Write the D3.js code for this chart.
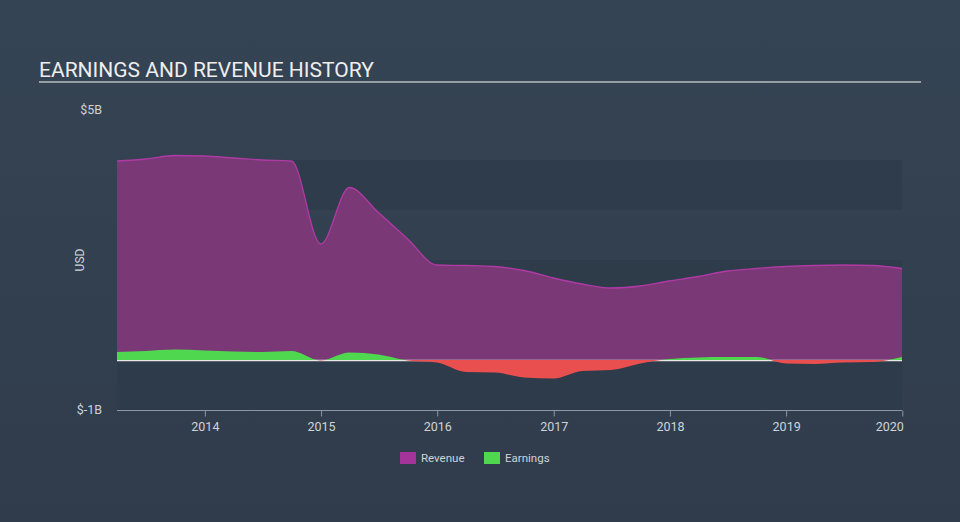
<!DOCTYPE html>
<html><head><meta charset="utf-8">
<script src="https://cdn.jsdelivr.net/npm/d3@7"></script>
<style>
html,body{margin:0;padding:0;background:#333f4f;}
svg{display:block;font-family:Roboto,"Noto Sans",sans-serif;}
</style></head>
<body>
<svg id="chart" width="960" height="522"></svg>
<script>
const dates = ["2013-03-31","2013-06-30","2013-09-30","2013-12-31","2014-03-31","2014-06-30","2014-09-30","2014-12-31",
"2015-03-31","2015-06-30","2015-09-30","2015-12-31","2016-03-31","2016-06-30","2016-09-30","2016-12-31",
"2017-03-31","2017-06-30","2017-09-30","2017-12-31","2018-03-31","2018-06-30","2018-09-30","2018-12-31",
"2019-03-31","2019-06-30","2019-09-30","2019-12-31"];
const revenue = [3.98,4.02,4.09,4.08,4.04,4.00,3.98,2.32,3.45,2.95,2.42,1.90,1.89,1.87,1.79,1.64,1.52,1.44,1.48,1.58,1.67,1.78,1.83,1.87,1.89,1.90,1.89,1.83];
const earnings = [0.16,0.18,0.21,0.19,0.17,0.16,0.18,-0.01,0.15,0.11,-0.01,-0.05,-0.24,-0.25,-0.35,-0.37,-0.22,-0.20,-0.07,0.02,0.05,0.06,0.06,-0.07,-0.08,-0.05,-0.04,0.06];
const xTicks = [2014,2015,2016,2017,2018,2019,2020];
const yTickValues = [5,-1];
const yTickLabels = ["$5B","$-1B"];
const bandValues = [-1,1,3];

(function(){
const parse = d3.timeParse("%Y-%m-%d");
const rows = dates.map((d,i)=>({date:parse(d), rev:revenue[i], earn:earnings[i]}));

const svg = d3.select("#chart");
const W=960,H=522;
const defs = svg.append("defs");
const bg = defs.append("linearGradient").attr("id","bg").attr("x1",0).attr("y1",0).attr("x2",0).attr("y2",1);
bg.append("stop").attr("offset","0%").attr("stop-color","#354454");
bg.append("stop").attr("offset","100%").attr("stop-color","#303c4b");
svg.append("rect").attr("width",W).attr("height",H).attr("fill","url(#bg)");

const pLeft=117,pRight=902,pTop=110,pBottom=410;
const x = d3.scaleTime().domain([parse("2013-03-31"),parse("2019-12-31")]).range([pLeft,pRight]);
const y = d3.scaleLinear().domain([-1,5]).range([pBottom,pTop]);

// bands
svg.selectAll("rect.band").data(bandValues).enter().append("rect")
  .attr("class","band")
  .attr("x",pLeft).attr("width",pRight-pLeft)
  .attr("y",d=>y(d+1)).attr("height",d=>y(d)-y(d+1))
  .attr("fill","#2c3a49").attr("opacity",0.7);

// title
svg.append("text").attr("x",39).attr("y",77).text("EARNINGS AND REVENUE HISTORY")
  .attr("fill","#eeeeee").attr("font-size",21);
svg.append("line").attr("x1",39).attr("x2",921).attr("y1",82).attr("y2",82)
  .attr("stroke","#b8bcc2").attr("stroke-width",1.5);

// revenue area
const curve = d3.curveMonotoneX;
const revArea = d3.area().x(d=>x(d.date)).y0(y(0)).y1(d=>y(d.rev)).curve(curve);
const revLine = d3.line().x(d=>x(d.date)).y(d=>y(d.rev)).curve(curve);
svg.append("path").datum(rows).attr("d",revArea).attr("fill","#7a3976");
svg.append("path").datum(rows).attr("d",revLine).attr("fill","none").attr("stroke","#b03aa5").attr("stroke-width",1.3);

// zero line
svg.append("line").attr("x1",pLeft).attr("x2",pRight).attr("y1",y(0)+0.5).attr("y2",y(0)+0.5)
  .attr("stroke","#e6e6e6").attr("stroke-width",1.5);

// earnings
defs.append("clipPath").attr("id","pos").append("rect")
  .attr("x",pLeft).attr("y",0).attr("width",pRight-pLeft).attr("height",y(0));
defs.append("clipPath").attr("id","neg").append("rect")
  .attr("x",pLeft).attr("y",y(0)).attr("width",pRight-pLeft).attr("height",H-y(0));
const earnArea = d3.area().x(d=>x(d.date)).y0(y(0)).y1(d=>y(d.earn)).curve(curve);
svg.append("path").datum(rows).attr("d",earnArea).attr("fill","#4fd84f").attr("clip-path","url(#pos)");
svg.append("path").datum(rows).attr("d",earnArea).attr("fill","#ea4f50").attr("clip-path","url(#neg)");

// x axis
const xAxis = d3.axisBottom(x)
  .tickValues(xTicks.map(t=>new Date(t,0,1)))
  .tickFormat(d3.timeFormat("%Y"))
  .tickSize(6).tickSizeOuter(0);
const gx = svg.append("g").attr("transform",`translate(0,${pBottom+0.5})`).call(xAxis);
gx.select(".domain").attr("stroke","#8c97a6").attr("d",`M${pLeft},0H${pRight}`);
gx.selectAll(".tick line").attr("stroke","#8c97a6");
gx.selectAll(".tick text").attr("fill","#cfd3d8").attr("font-size",12.5).attr("dy","0.95em")
  .attr("font-family","Roboto,sans-serif");
gx.selectAll(".tick text").filter((d,i,n)=>i===n.length-1).attr("text-anchor","end").attr("x",1);

// y labels
svg.selectAll("text.ylab").data(yTickValues).enter().append("text")
  .attr("class","ylab").attr("x",102).attr("y",d=>y(d)).attr("dy","0.35em")
  .attr("text-anchor","end").attr("fill","#cfd3d8").attr("font-size",12.5)
  .text((d,i)=>yTickLabels[i]);
svg.append("text").attr("transform","translate(84,260) rotate(-90)")
  .attr("text-anchor","middle").attr("fill","#cfd3d8").attr("font-size",12).text("USD");

// legend
const legend = [{name:"Revenue",color:"#a4349a",x:400},{name:"Earnings",color:"#4fd84f",x:484}];
const lg = svg.selectAll("g.leg").data(legend).enter().append("g").attr("class","leg")
  .attr("transform",d=>`translate(${d.x},452)`);
lg.append("rect").attr("width",16).attr("height",12).attr("fill",d=>d.color);
lg.append("text").attr("x",21).attr("y",6).attr("dy","0.35em").attr("fill","#cfd3d8")
  .attr("font-size",11.5).text(d=>d.name);
})();
</script>
</body></html>
